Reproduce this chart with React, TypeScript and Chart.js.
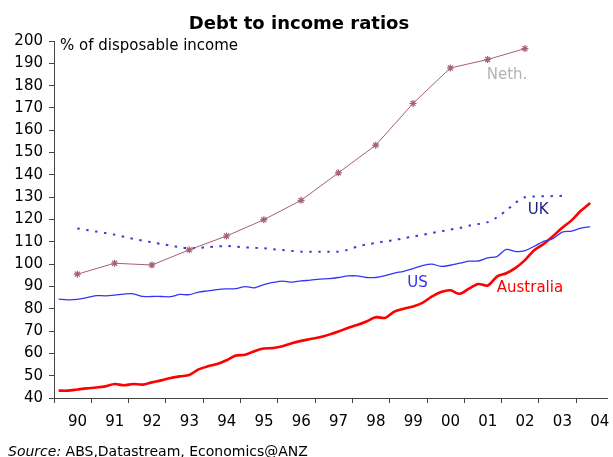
import React, { useEffect, useRef } from "react";
import { Chart, registerables } from "chart.js";

Chart.register(...registerables);

// ---- Data ----
const QUARTER_START = 1990.125; // mid Q1 1990
const QUARTER_COUNT = 58; // 1990Q1 .. 2004Q2

const australia = [
  43.3, 43.3, 43.8, 44.3, 44.7, 45.2, 46.3, 45.7, 46.3, 46.0,
  47.0, 47.9, 49.0, 49.7, 50.3, 52.8, 54.2, 55.2, 56.9, 59.0,
  59.4, 61.0, 62.2, 62.4, 63.2, 64.5, 65.6, 66.4, 67.2, 68.4,
  69.8, 71.4, 72.7, 74.3, 76.2, 75.9, 78.7, 80.0, 81.0, 82.6,
  85.4, 87.5, 88.3, 86.7, 89.0, 91.1, 90.4, 94.4, 95.9, 98.3,
  101.8, 106.2, 109.0, 112.5, 116.3, 119.6, 123.9, 127.4,
];

const us = [
  84.3, 84.0, 84.2, 85.0, 85.9, 85.8, 86.1, 86.6, 86.7, 85.5,
  85.5, 85.5, 85.4, 86.4, 86.3, 87.5, 88.0, 88.6, 88.9, 89.0,
  89.9, 89.4, 90.8, 91.8, 92.4, 91.9, 92.5, 92.8, 93.3, 93.5,
  94.0, 94.7, 94.7, 94.0, 94.0, 94.8, 96.0, 96.8, 98.0, 99.3,
  100.0, 99.0, 99.5, 100.4, 101.3, 101.4, 102.8, 103.4, 106.6, 105.6,
  106.0, 108.0, 110.2, 111.4, 114.3, 114.8, 116.1, 116.8,
];

// UK starts at the 3rd quarter of 1990
const ukStartIndex = 2;
const uk = [
  116.0, 115.3, 114.6, 113.9, 113.2, 112.3, 111.3, 110.5, 109.8, 109.0,
  108.3, 107.6, 107.1, 107.3, 107.6, 107.9, 108.1, 107.8, 107.5, 107.3,
  107.1, 106.7, 106.3, 105.9, 105.6, 105.5, 105.5, 105.5, 105.6, 106.4,
  107.8, 108.8, 109.5, 110.2, 110.8, 111.6, 112.4, 113.1, 113.9, 114.7,
  115.5, 116.2, 117.2, 118.0, 118.8, 121.0, 124.0, 127.5, 130.0, 130.3,
  130.4, 130.5, 130.6,
];

// Netherlands: annual points (plotted at Q3 of each year)
const nethYears = [1990, 1991, 1992, 1993, 1994, 1995, 1996, 1997, 1998, 1999, 2000, 2001, 2002];
const neth = [95.5, 100.4, 99.6, 106.4, 112.6, 119.9, 128.6, 140.9, 153.3, 172.0, 187.9, 191.7, 196.6];

const tickYears = [1990, 1991, 1992, 1993, 1994, 1995, 1996, 1997, 1998, 1999, 2000, 2001, 2002, 2003, 2004];

const X_MIN = 1990;
const X_MAX = 2004.847;
const Y_MIN = 40;
const Y_MAX = 200;

const FONT = "'DejaVu Sans', Verdana, sans-serif";

const quarterX = (k: number) => QUARTER_START + 0.25 * k;

const textPlugin = {
  id: "textPlugin",
  afterDraw(chart: any) {
    const ctx = chart.ctx;
    const xs = chart.scales.x;
    const ys = chart.scales.y;
    ctx.save();
    // Title
    ctx.fillStyle = "#000";
    ctx.font = `bold 18px ${FONT}`;
    ctx.textAlign = "center";
    ctx.textBaseline = "alphabetic";
    ctx.fillText("Debt to income ratios", 299, 29);
    // Unit
    ctx.font = `15px ${FONT}`;
    ctx.textAlign = "left";
    ctx.fillText("% of disposable income", 60, 49.5);

    // Series labels
    const lbl = (t: string, x: number, y: number, c: string) => {
      ctx.fillStyle = c;
      ctx.font = `15px ${FONT}`;
      ctx.textAlign = "left";
      ctx.textBaseline = "middle";
      ctx.fillText(t, xs.getPixelForValue(x), ys.getPixelForValue(y));
    };
    lbl("Neth.", 2001.6, 184.7, "#b4b4b4");
    lbl("UK", 2002.7, 124.0, "#1c1c80");
    lbl("US", 1999.47, 91.6, "#3030ee");
    lbl("Australia", 2001.87, 89.1, "#ff0000");

    // Source
    ctx.fillStyle = "#000";
    ctx.textBaseline = "alphabetic";
    ctx.font = `italic 14px ${FONT}`;
    ctx.fillText("Source:", 8, 455.5);
    const w = ctx.measureText("Source: ").width;
    ctx.font = `14px ${FONT}`;
    ctx.fillText("ABS,Datastream, Economics@ANZ", 8 + w, 455.5);
    ctx.restore();
  },
};

export default function App() {
  const ref = useRef<HTMLCanvasElement | null>(null);

  useEffect(() => {
    if (!ref.current) return;
    const ausData = australia.map((v, k) => ({ x: quarterX(k), y: v }));
    const usData = us.map((v, k) => ({ x: quarterX(k), y: v }));
    const ukData = uk.map((v, i) => ({ x: quarterX(i + ukStartIndex), y: v }));
    const nethData = neth.map((v, i) => ({ x: nethYears[i] + 0.625, y: v }));

    const chart = new Chart(ref.current, {
      type: "line",
      data: {
        datasets: [
          {
            label: "Neth.",
            data: nethData,
            borderColor: "#a55e7c",
            backgroundColor: "#a55e7c",
            borderWidth: 1,
            pointStyle: "star",
            pointRadius: 3.5,
            pointBorderWidth: 1.2,
            tension: 0,
          },
          {
            label: "UK",
            data: ukData,
            borderColor: "#3a3ad0",
            borderWidth: 2,
            borderDash: [2.5, 6.5],
            pointRadius: 0,
            tension: 0.3,
          },
          {
            label: "US",
            data: usData,
            borderColor: "#3535f5",
            borderWidth: 1.3,
            pointRadius: 0,
            tension: 0.3,
          },
          {
            label: "Australia",
            data: ausData,
            borderColor: "#ff0000",
            borderWidth: 2.6,
            pointRadius: 0,
            tension: 0.3,
          },
        ],
      },
      options: {
        animation: false,
        responsive: false,
        devicePixelRatio: 1,
        layout: { padding: { top: 41, left: 0, right: 0, bottom: 0 } },
        plugins: {
          legend: { display: false },
          tooltip: { enabled: false },
          title: { display: false },
        },
        scales: {
          x: {
            type: "linear",
            min: X_MIN,
            max: X_MAX,
            afterBuildTicks: (scale: any) => {
              scale.ticks = tickYears.map((v) => ({ value: v }));
            },
            afterFit: (scale: any) => {
              scale.height = 59;
            },
            grid: {
              drawOnChartArea: false,
              drawTicks: true,
              tickLength: 5,
              color: "#444",
            },
            border: { color: "#444", width: 1 },
            ticks: {
              autoSkip: false,
              maxRotation: 0,
              labelOffset: 23.5,
              padding: 10,
              color: "#000",
              font: { family: FONT, size: 15 },
              callback: (v: any) => String(Math.round(v) % 100).padStart(2, "0"),
            },
          },
          y: {
            type: "linear",
            min: Y_MIN,
            max: Y_MAX,
            afterFit: (scale: any) => {
              scale.width = 54;
            },
            grid: {
              drawOnChartArea: false,
              drawTicks: true,
              tickLength: 5,
              color: "#444",
            },
            border: { color: "#444", width: 1 },
            ticks: {
              stepSize: 10,
              padding: 6,
              color: "#000",
              font: { family: FONT, size: 15 },
            },
          },
        },
      },
      plugins: [textPlugin],
    } as any);
    return () => chart.destroy();
  }, []);

  return (
    <div style={{ position: "fixed", left: 0, top: 0, width: 613, height: 457, overflow: "hidden", background: "#fff" }}>
      <canvas ref={ref} width={613} height={457} style={{ width: 613, height: 457, display: "block" }} />
    </div>
  );
}
